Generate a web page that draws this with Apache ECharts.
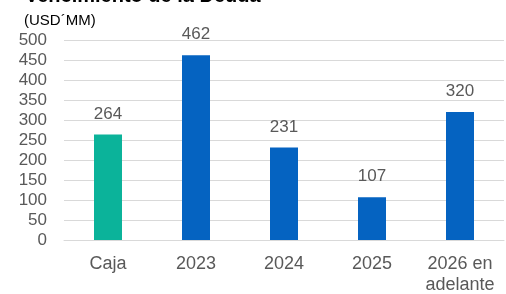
<!DOCTYPE html>
<html>
<head>
<meta charset="utf-8">
<script src="https://cdn.jsdelivr.net/npm/echarts@6/dist/echarts.min.js"></script>
<style>
  html, body { margin: 0; padding: 0; background: #fff; }
  #chart { width: 506px; height: 294px; }
</style>
</head>
<body>
<div id="chart"></div>
<script>
const categories = ['Caja', '2023', '2024', '2025', '2026 en\nadelante'];
const values = [264, 462, 231, 107, 320];
const barColors = ['#0BB39A', '#0563C1', '#0563C1', '#0563C1', '#0563C1'];

const chart = echarts.init(document.getElementById('chart'));

chart.setOption({
    animation: false,
    title: [
        {
            text: 'Vencimiento de la Deuda',
            left: 20,
            top: -19,
            textStyle: { fontFamily: 'Liberation Sans', fontSize: 20, fontWeight: 'bold', color: '#000' }
        },
        {
            text: '(USD´MM)',
            left: 19,
            top: 8,
            textStyle: { fontFamily: 'Liberation Sans', fontSize: 15, fontWeight: 'normal', color: '#000' }
        }
    ],
    grid: { left: 64, right: 2, top: 40, bottom: 54, outerBoundsMode: 'none', containLabel: false },
    xAxis: {
        type: 'category',
        data: categories,
        axisTick: { show: false },
        axisLine: { lineStyle: { color: '#D9D9D9', width: 1 } },
        axisLabel: {
            interval: 0,
            color: '#595959',
            fontFamily: 'Liberation Sans',
            fontSize: 18,
            lineHeight: 21,
            margin: 14
        }
    },
    yAxis: {
        type: 'value',
        min: 0,
        max: 500,
        interval: 50,
        axisLine: { show: false },
        axisTick: { show: false },
        splitLine: { lineStyle: { color: '#D9D9D9', width: 1 } },
        axisLabel: {
            color: '#595959',
            fontFamily: 'Liberation Sans',
            fontSize: 17,
            margin: 17
        }
    },
    series: [{
        type: 'bar',
        barWidth: 28,
        data: values.map((v, i) => ({ value: v, itemStyle: { color: barColors[i] } })),
        label: {
            show: true,
            position: 'top',
            distance: 12,
            color: '#595959',
            fontFamily: 'Liberation Sans',
            fontSize: 17
        }
    }]
});
</script>
</body>
</html>
